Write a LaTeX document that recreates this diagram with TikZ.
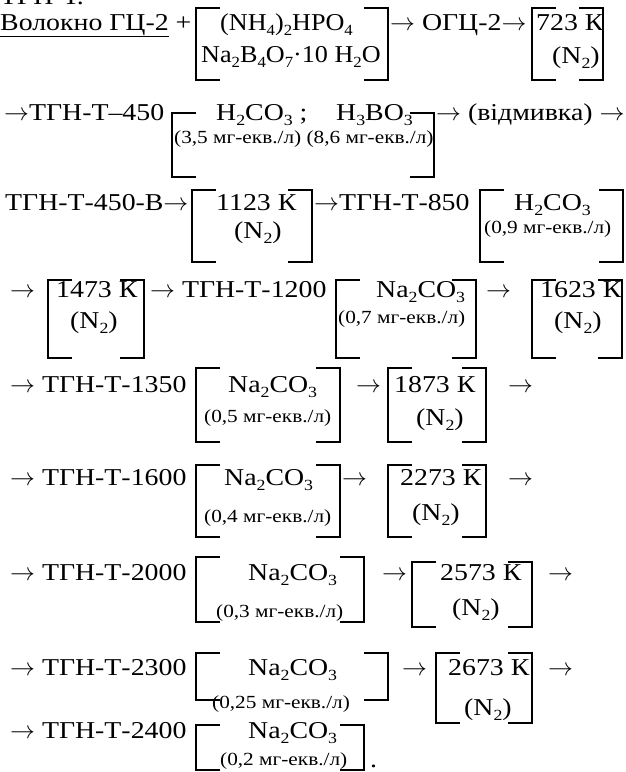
\documentclass[tikz,border=0pt]{standalone}
\usepackage{fontspec}
\setmainfont[FakeStretch=1.15]{Liberation Serif}
\newcommand\ssub[1]{\raisebox{-0.22em}{\fontsize{15.5}{16}\selectfont #1}}
\newcommand\arr{\ensuremath{\rightarrow}}
\newcommand\narrow[1]{\scalebox{0.94}[1]{#1}}
\newcommand\brpair[4]{%
  \draw[brk] ({#1+24},#3) -- (#1,#3) -- (#1,#4) -- ({#1+24},#4);
  \draw[brk] ({#2-24},#3) -- (#2,#3) -- (#2,#4) -- ({#2-24},#4);}
\begin{document}
\begin{tikzpicture}[x=1pt,y=-1pt,
  txt/.style={anchor=base west, inner sep=0pt, font=\fontsize{24.2}{28}\selectfont},
  sml/.style={anchor=base west, inner sep=0pt, font=\fontsize{18.5}{20}\selectfont},
  brk/.style={line width=1.8pt}]
\useasboundingbox (0,0) rectangle (626,772);
\clip (0,0) rectangle (626,772);
% cut-off previous line
\node[txt] (r0) at (0,4) {ТГН-Т.};
% row 1
\node[txt] (r1a) at (0,30) {\underline{Волокно ГЦ-2} +};
\brpair{196}{388}{8}{80}
\node[txt] (r1b) at (220,30) {\narrow{(NH\ssub4)\ssub2HPO\ssub4}};
\node[txt] (r1c) at (201,62) {\narrow{Na\ssub2B\ssub4O\ssub7·10 H\ssub2O}};
\node[txt] (r1d) at (390,30) {\arr{} ОГЦ-2\arr};
\brpair{532}{603}{8}{80}
\node[txt] (r1e) at (536,30) {723 К};
\node[txt] (r1f) at (552,63) {(N\ssub2)};
% row 2
\node[txt] (r2a) at (4,120) {\arr ТГН-Т–450};
\brpair{172}{434}{113}{177}
\node[txt] (r2b) at (216,120) {H\ssub2CO\ssub3 ;};
\node[txt] (r2b2) at (336,120) {H\ssub3BO\ssub3};
\node[sml] (r2c) at (174,143) {(3,5 мг-екв./л) (8,6 мг-екв./л)};
\node[txt] (r2d) at (436,120) {\arr{} (відмивка) \arr};
% row 3
\node[txt] (r3a) at (5,210) {ТГН-Т-450-В\arr};
\brpair{192}{312}{190}{262}
\node[txt] (r3b) at (216,210) {1123 К};
\node[txt] (r3c) at (234,238) {(N\ssub2)};
\node[txt] (r3d) at (314,210) {\arr ТГН-Т-850};
\brpair{480}{623}{190}{262}
\node[txt] (r3e) at (514,210) {H\ssub2CO\ssub3};
\node[sml] (r3f) at (484,233) {(0,9 мг-екв./л)};
% row 4
\node[txt] (r4a) at (10,297) {\arr};
\brpair{48}{144}{280}{358}
\node[txt] (r4b) at (56,297) {1473 К};
\node[txt] (r4c) at (70,328) {(N\ssub2)};
\node[txt] (r4d) at (150,297) {\arr{} ТГН-Т-1200};
\brpair{336}{476}{280}{358}
\node[txt] (r4e) at (376,297) {Na\ssub2CO\ssub3};
\node[sml] (r4f) at (338,323) {(0,7 мг-екв./л)};
\node[txt] (r4g) at (486,297) {\arr};
\brpair{532}{622}{280}{358}
\node[txt] (r4h) at (540,297) {1623 К};
\node[txt] (r4i) at (554,328) {(N\ssub2)};
% row 5
\node[txt] (r5a) at (10,392) {\arr{} ТГН-Т-1350};
\brpair{196}{340}{368}{442}
\node[txt] (r5b) at (228,392) {Na\ssub2CO\ssub3};
\node[sml] (r5c) at (204,422) {(0,5 мг-екв./л)};
\node[txt] (r5d) at (356,392) {\arr};
\brpair{388}{486}{368}{442}
\node[txt] (r5e) at (394,392) {1873 К};
\node[txt] (r5f) at (416,425) {(N\ssub2)};
\node[txt] (r5g) at (508,392) {\arr};
% row 6
\node[txt] (r6a) at (10,485) {\arr{} ТГН-Т-1600};
\brpair{196}{340}{465}{537}
\node[txt] (r6b) at (224,485) {Na\ssub2CO\ssub3};
\node[sml] (r6c) at (204,522) {(0,4 мг-екв./л)};
\node[txt] (r6d) at (342,485) {\arr};
\brpair{388}{486}{465}{537}
\node[txt] (r6e) at (400,485) {2273 К};
\node[txt] (r6f) at (412,520) {(N\ssub2)};
\node[txt] (r6g) at (508,485) {\arr};
% row 7
\node[txt] (r7a) at (10,580) {\arr{} ТГН-Т-2000};
\brpair{196}{364}{557}{622}
\node[txt] (r7b) at (248,580) {Na\ssub2CO\ssub3};
\node[sml] (r7c) at (216,617) {(0,3 мг-екв./л)};
\node[txt] (r7d) at (382,580) {\arr};
\brpair{412}{532}{562}{627}
\node[txt] (r7e) at (440,580) {2573 К};
\node[txt] (r7f) at (452,615) {(N\ssub2)};
\node[txt] (r7g) at (548,580) {\arr};
% row 8
\node[txt] (r8a) at (10,675) {\arr{} ТГН-Т-2300};
\brpair{196}{388}{653}{700}
\node[txt] (r8b) at (248,675) {Na\ssub2CO\ssub3};
\node[sml] (r8c) at (212,708) {(0,25 мг-екв./л)};
\node[txt] (r8d) at (402,675) {\arr};
\brpair{436}{532}{653}{723}
\node[txt] (r8e) at (448,675) {2673 К};
\node[txt] (r8f) at (464,715) {(N\ssub2)};
\node[txt] (r8g) at (548,675) {\arr};
% row 9
\node[txt] (r9a) at (10,738) {\arr{} ТГН-Т-2400};
\brpair{196}{364}{725}{770}
\node[txt] (r9b) at (248,738) {Na\ssub2CO\ssub3};
\node[sml] (r9c) at (220,765) {(0,2 мг-екв./л)};
\node[txt] (r9d) at (370,767) {.};
\end{tikzpicture}
\end{document}
